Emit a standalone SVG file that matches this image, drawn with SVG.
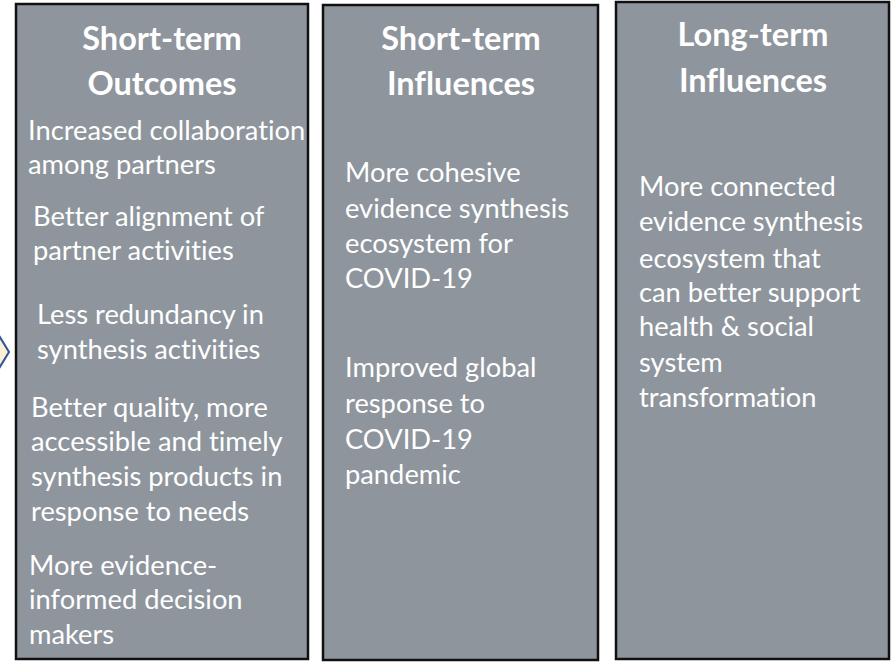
<svg xmlns="http://www.w3.org/2000/svg" width="891" height="662" viewBox="0 0 891 662">
<style>
.box{fill:#8E959D;stroke:#111;stroke-width:2.5}
.t{font-family:Lato,"Open Sans",sans-serif;font-weight:bold;font-size:32.5px;fill:#fff;text-anchor:middle;font-variant-ligatures:none}
.b{font-family:Lato,"Open Sans",sans-serif;font-size:27.3px;fill:#fff;font-variant-ligatures:none}
</style>
<rect width="891" height="662" fill="#fff"/>
<g id="connectors">
<path d="M-2,334 L9,352 L-2,370" fill="#FCEFD4" stroke="#2F5597" stroke-width="2"/>
</g>
<g id="short-term-outcomes">
<rect class="box" x="16" y="4" width="292" height="655"/>
<text class="t" x="162" y="50">Short-term</text>
<text class="t" x="162" y="95">Outcomes</text>
<text class="b" x="28" y="140">Increased collaboration</text>
<text class="b" x="28" y="174">among partners</text>
<text class="b" x="33" y="226">Better alignment of</text>
<text class="b" x="33" y="260">partner activities</text>
<text class="b" x="37" y="324">Less redundancy in</text>
<text class="b" x="37" y="359">synthesis activities</text>
<text class="b" x="31" y="417">Better quality, more</text>
<text class="b" x="31" y="451">accessible and timely</text>
<text class="b" x="31" y="486">synthesis products in</text>
<text class="b" x="31" y="521">response to needs</text>
<text class="b" x="29" y="575">More evidence-</text>
<text class="b" x="29" y="609">informed decision</text>
<text class="b" x="29" y="644">makers</text>
</g>
<g id="short-term-influences">
<rect class="box" x="323" y="5" width="275" height="655"/>
<text class="t" x="461" y="50">Short-term</text>
<text class="t" x="461" y="95">Influences</text>
<text class="b" x="345" y="182">More cohesive</text>
<text class="b" x="345" y="218">evidence synthesis</text>
<text class="b" x="345" y="253">ecosystem for</text>
<text class="b" x="345" y="288">COVID-19</text>
<text class="b" x="345" y="377">Improved global</text>
<text class="b" x="345" y="413">response to</text>
<text class="b" x="345" y="449">COVID-19</text>
<text class="b" x="345" y="484">pandemic</text>
</g>
<g id="long-term-influences">
<rect class="box" x="616" y="2" width="273" height="657"/>
<text class="t" x="753" y="46">Long-term</text>
<text class="t" x="753" y="92">Influences</text>
<text class="b" x="639" y="196">More connected</text>
<text class="b" x="639" y="231">evidence synthesis</text>
<text class="b" x="639" y="268">ecosystem that</text>
<text class="b" x="639" y="302">can better support</text>
<text class="b" x="639" y="336">health &amp; social</text>
<text class="b" x="639" y="372">system</text>
<text class="b" x="639" y="407">transformation</text>
</g>
</svg>
